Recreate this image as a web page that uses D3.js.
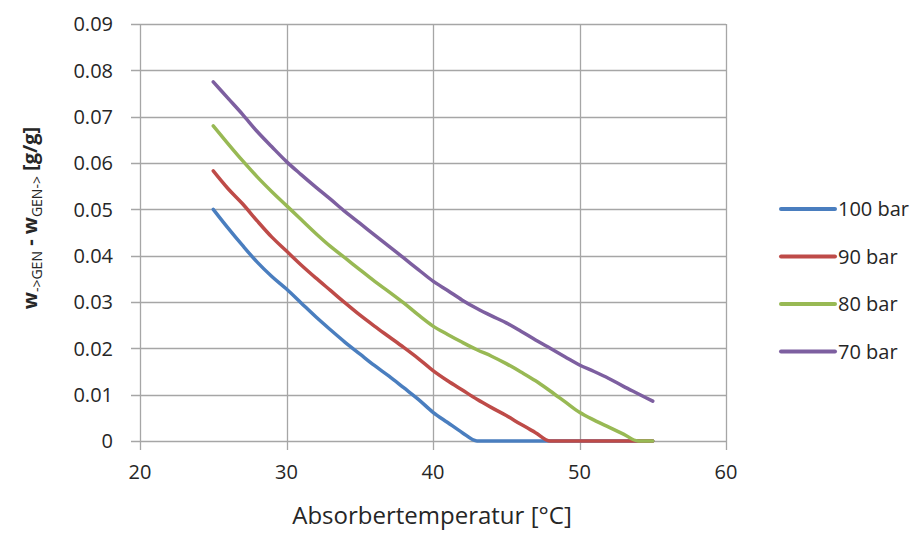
<!DOCTYPE html>
<html>
<head>
<meta charset="utf-8">
<script src="https://cdn.jsdelivr.net/npm/d3@7"></script>
<style>
  body { margin: 0; background: #fff; }
  text { font-family: "Open Sans", "DejaVu Sans", sans-serif; fill: #262626; }
</style>
</head>
<body>
<div id="chart"></div>
<script>
// Values (Absorbertemperatur in °C, difference in g/g)
var temps = d3.range(25, 56);
var series = ["100 bar", "90 bar", "80 bar", "70 bar"];
var colors = ["#4a7ebf", "#be4b48", "#98b954", "#7d5fa0"];

var bar100 = [0.0500, 0.0460, 0.0422, 0.0386, 0.0355, 0.0328, 0.0298, 0.0268, 0.0240, 0.0213,
              0.0188, 0.0163, 0.0140, 0.0115, 0.0090, 0.0062, 0.0040, 0.0018, 0.0000, 0,
              0, 0, 0, 0, 0, 0, 0, 0, 0, 0, 0];
var bar90 = [0.0583, 0.0545, 0.0512, 0.0475, 0.0440, 0.0410, 0.0380, 0.0352, 0.0325, 0.0298,
             0.0272, 0.0248, 0.0225, 0.0202, 0.0178, 0.0152, 0.0130, 0.0110, 0.0090, 0.0072,
             0.0055, 0.0036, 0.0018, 0.0000, 0, 0, 0, 0, 0, 0, 0];
var bar80 = [0.0680, 0.0642, 0.0605, 0.0570, 0.0538, 0.0508, 0.0478, 0.0448, 0.0420, 0.0395,
             0.0370, 0.0345, 0.0322, 0.0298, 0.0272, 0.0248, 0.0230, 0.0213, 0.0197, 0.0183,
             0.0167, 0.0149, 0.0130, 0.0108, 0.0085, 0.0062, 0.0045, 0.0030, 0.0015, 0.0000, 0];
var bar70 = [0.0775, 0.0740, 0.0705, 0.0668, 0.0635, 0.0603, 0.0575, 0.0548, 0.0522, 0.0495,
             0.0470, 0.0445, 0.0420, 0.0395, 0.0370, 0.0345, 0.0325, 0.0304, 0.0286, 0.0270,
             0.0255, 0.0237, 0.0218, 0.0200, 0.0182, 0.0164, 0.0150, 0.0135, 0.0118, 0.0102, 0.0086];

var xTicks = [20, 30, 40, 50, 60];
var yTicks = [0, 0.01, 0.02, 0.03, 0.04, 0.05, 0.06, 0.07, 0.08, 0.09];

var width = 924, height = 533;
var margin = {left: 140, right: 198, top: 24, bottom: 92};

var svg = d3.select("#chart").append("svg")
    .attr("width", width)
    .attr("height", height);

var x = d3.scaleLinear().domain([20, 60]).range([margin.left, width - margin.right]);
var y = d3.scaleLinear().domain([0, 0.09]).range([height - margin.bottom, margin.top]);

// Grid lines
svg.append("g")
    .selectAll("line.h")
    .data(yTicks)
  .enter().append("line")
    .attr("x1", x(20) - 9)
    .attr("x2", x(60))
    .attr("y1", function(d) { return Math.round(y(d)) + 0.5; })
    .attr("y2", function(d) { return Math.round(y(d)) + 0.5; })
    .style("stroke", "#a6a6a6")
    .style("stroke-width", 1.3);

svg.append("g")
    .selectAll("line.v")
    .data(xTicks)
  .enter().append("line")
    .attr("x1", function(d) { return Math.round(x(d)) + 0.5; })
    .attr("x2", function(d) { return Math.round(x(d)) + 0.5; })
    .attr("y1", y(0.09))
    .attr("y2", y(0) + 9)
    .style("stroke", "#a6a6a6")
    .style("stroke-width", 1.3);

// Tick labels
svg.append("g")
    .selectAll("text")
    .data(yTicks)
  .enter().append("text")
    .attr("x", x(20) - 27)
    .attr("y", function(d) { return y(d); })
    .attr("dy", "0.36em")
    .style("text-anchor", "end")
    .style("font-size", "20px")
    .text(function(d) { return d === 0 ? "0" : d3.format(".2f")(d); });

svg.append("g")
    .selectAll("text")
    .data(xTicks)
  .enter().append("text")
    .attr("x", function(d) { return x(d); })
    .attr("y", y(0) + 38)
    .style("text-anchor", "middle")
    .style("font-size", "20px")
    .text(function(d) { return d; });

// Axis titles
svg.append("text")
    .attr("x", x(40) - 1)
    .attr("y", 524)
    .style("text-anchor", "middle")
    .style("font-size", "24px")
    .text("Absorbertemperatur [°C]");

var yTitle = svg.append("text")
    .attr("transform", "translate(37,218) rotate(-90)")
    .style("text-anchor", "middle")
    .style("font-size", "20px")
    .style("font-weight", "bold");
yTitle.append("tspan").text("w");
yTitle.append("tspan").attr("dy", 5).style("font-size", "14px").style("font-weight", "normal").text("->GEN");
yTitle.append("tspan").attr("dy", -5).text(" - w");
yTitle.append("tspan").attr("dy", 5).style("font-size", "14px").style("font-weight", "normal").text("GEN->");
yTitle.append("tspan").attr("dy", -5).text(" [g/g]");

// Curves
var allValues = [bar100, bar90, bar80, bar70];

var line = d3.line()
    .x(function(d, i) { return x(temps[i]); })
    .y(function(d) { return y(d); })
    .curve(d3.curveMonotoneX);

svg.append("g")
    .selectAll("path")
    .data(allValues)
  .enter().append("path")
    .attr("d", line)
    .style("fill", "none")
    .style("stroke", function(d, i) { return colors[i]; })
    .style("stroke-width", 3.5)
    .style("stroke-linecap", "round")
    .style("stroke-linejoin", "round");

// Legend
var legend = svg.append("g")
    .selectAll("g")
    .data(series)
  .enter().append("g")
    .attr("transform", function(d, i) { return "translate(781," + (209 + i * 47.5) + ")"; });

legend.append("line")
    .attr("x1", 0)
    .attr("x2", 54)
    .style("stroke", function(d, i) { return colors[i]; })
    .style("stroke-width", 4)
    .style("stroke-linecap", "round");

legend.append("text")
    .attr("x", 57)
    .attr("dy", "0.36em")
    .style("font-size", "20px")
    .text(function(d) { return d; });
</script>
</body>
</html>
